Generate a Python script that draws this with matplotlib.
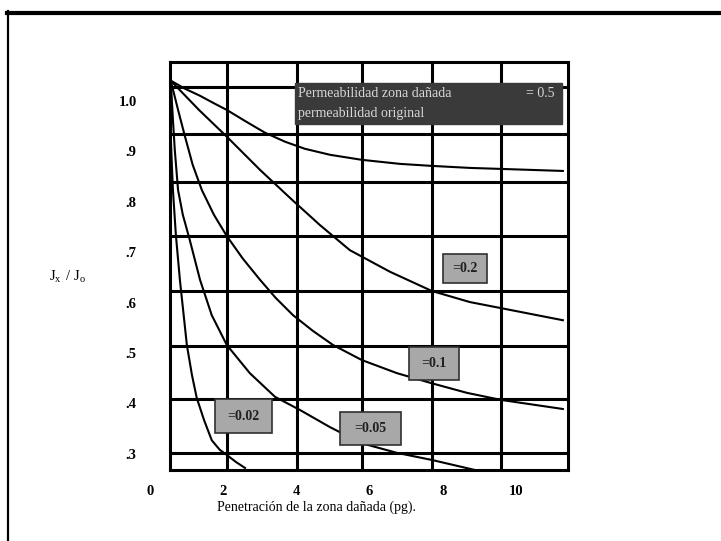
import matplotlib
matplotlib.use('Agg')
import matplotlib.pyplot as plt
from matplotlib.patches import Rectangle
from matplotlib.lines import Line2D

plt.rcParams['font.family'] = ['Liberation Serif', 'DejaVu Serif']

# curvas Jx/Jo vs penetración, una por relación de permeabilidad
pen_05 = [0.57, 0.96, 1.37, 1.78, 2.10, 2.60, 3.14, 3.69, 4.23, 4.92, 5.79,
          6.83, 7.70, 8.74, 9.59, 11.28]
jx_05 = [1.040, 1.024, 1.010, 0.994, 0.982, 0.960, 0.937, 0.919, 0.905, 0.893,
         0.883, 0.875, 0.871, 0.867, 0.865, 0.861]

pen_02 = [0.57, 1.34, 2.10, 3.01, 3.88, 4.64, 5.46, 6.56, 7.70, 8.74, 9.59, 11.28]
jx_02 = [1.040, 0.982, 0.929, 0.863, 0.804, 0.754, 0.704, 0.661, 0.623, 0.601,
         0.589, 0.565]

pen_01 = [0.57, 0.77, 0.96, 1.17, 1.42, 1.75, 2.10, 2.54, 3.01, 3.44, 3.91, 4.45,
          5.00, 5.79, 6.75, 7.70, 8.66, 9.59, 11.28]
jx_01 = [1.040, 0.982, 0.929, 0.873, 0.823, 0.774, 0.732, 0.687, 0.645, 0.609,
         0.575, 0.544, 0.516, 0.486, 0.460, 0.440, 0.421, 0.407, 0.389]

pen_005 = [0.57, 0.63, 0.68, 0.77, 0.90, 1.09, 1.37, 1.69, 2.10, 2.73, 3.42, 4.10,
           4.92, 5.79, 6.75, 7.70, 8.88]
jx_005 = [1.040, 0.962, 0.903, 0.823, 0.774, 0.724, 0.645, 0.575, 0.516, 0.460,
          0.413, 0.387, 0.353, 0.321, 0.302, 0.288, 0.268]

pen_002 = [0.57, 0.60, 0.63, 0.71, 0.82, 1.01, 1.15, 1.28, 1.48, 1.69, 1.91, 2.10,
           2.35, 2.60]
jx_002 = [0.929, 0.873, 0.823, 0.734, 0.645, 0.516, 0.456, 0.411, 0.367, 0.327,
          0.308, 0.298, 0.284, 0.272]

# cuadrícula dibujada a mano
grid_x = [2.10, 4.02, 5.79, 7.70, 9.59]
grid_y = [1.028, 0.935, 0.839, 0.732, 0.623, 0.514, 0.409, 0.302]

xticks = [0, 2, 4, 6, 8, 10]
xtick_labels = ['0', '2', '4', '6', '8', '10']
yticks = [1.0, 0.9, 0.8, 0.7, 0.6, 0.5, 0.4, 0.3]
ytick_labels = ['1.0', '.9', '.8', '.7', '.6', '.5', '.4', '.3']

# etiquetas de cada curva: texto, (x0, x1, y0, y1)
etiquetas = [
    ('=0.2', (8.01, 9.21, 0.639, 0.696)),
    ('=0.1', (7.08, 8.44, 0.446, 0.512)),
    ('=0.05', (5.19, 6.86, 0.317, 0.383)),
    ('=0.02', (1.78, 3.33, 0.341, 0.409)),
]

fig = plt.figure(figsize=(7.21, 5.41), dpi=100)
ax = fig.add_axes([0.2358, 0.1312, 0.552, 0.7542])
ax.set_xlim(0.55, 11.42)
ax.set_ylim(0.268, 1.077)

for gx in grid_x:
    ax.axvline(gx, color='black', lw=2.2, zorder=1)
for gy in grid_y:
    ax.axhline(gy, color='black', lw=2.2, zorder=1)

for xs, ys in [(pen_05, jx_05), (pen_02, jx_02), (pen_01, jx_01),
               (pen_005, jx_005), (pen_002, jx_002)]:
    ax.plot(xs, ys, color='black', lw=1.5, zorder=2, solid_joinstyle='round')

# recuadro superior
ax.add_patch(Rectangle((3.96, 0.954), 11.26 - 3.96, 1.036 - 0.954,
                       facecolor='#3a3a3a', edgecolor='#3a3a3a', zorder=3))
ax.text(4.05, 1.015, 'Permeabilidad zona dañada', color='#d8d8d8',
        fontsize=10, va='center', ha='left', zorder=4)
ax.text(11.05, 1.015, '= 0.5', color='#d8d8d8', fontsize=10,
        va='center', ha='right', zorder=4)
ax.text(4.05, 0.975, 'permeabilidad original', color='#d8d8d8',
        fontsize=10, va='center', ha='left', zorder=4)

for txt, (x0, x1, y0, y1) in etiquetas:
    ax.add_patch(Rectangle((x0, y0), x1 - x0, y1 - y0, facecolor='#a8a8a8',
                           edgecolor='#303030', lw=1.2, zorder=3))
    ax.text((x0 + x1) / 2, (y0 + y1) / 2, txt, color='#202020', fontsize=10,
            fontweight='bold', ha='center', va='center', zorder=4)

for s in ax.spines.values():
    s.set_linewidth(2.2)

ax.set_xticks([])
ax.set_yticks(yticks)
ax.set_yticklabels(ytick_labels, fontsize=10.5, fontweight='bold')
ax.tick_params(axis='y', length=0, pad=24)

for v, lab in zip(xticks, xtick_labels):
    ax.text(v, -0.052, lab, transform=ax.get_xaxis_transform(), fontsize=10.5,
            fontweight='bold', ha='center', va='center')

fig.text(316 / 721, 1 - 507 / 541, 'Penetración de la zona dañada (pg).',
         fontsize=10, ha='center', va='center')
fig.text(68 / 721, 1 - 277 / 541, r'$\mathregular{J_x\ /\ J_o}$',
         fontsize=10.5, ha='center', va='center')

# marco exterior
fig.add_artist(Line2D([7 / 721, 1], [1 - 12.5 / 541, 1 - 12.5 / 541],
                      color='black', lw=3, transform=fig.transFigure))
fig.add_artist(Line2D([7.5 / 721, 7.5 / 721], [0, 1 - 11 / 541],
                      color='black', lw=1.6, transform=fig.transFigure))

fig.savefig('out.png', dpi=100)
